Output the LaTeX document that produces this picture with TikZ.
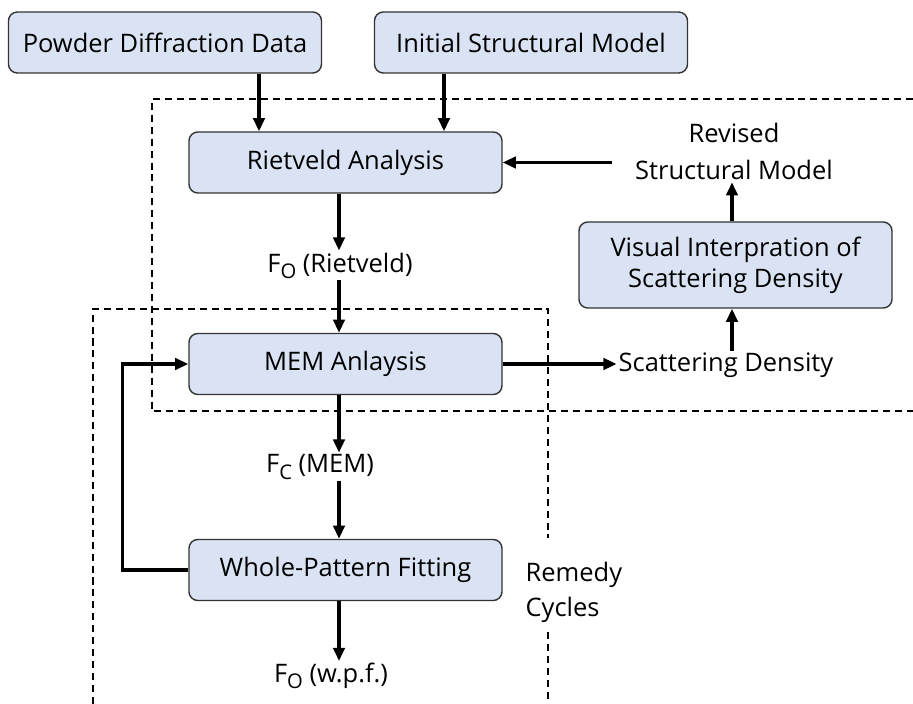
\documentclass[tikz,border=0pt]{standalone}
\usepackage{fontspec}
\setmainfont{Open Sans}
\definecolor{boxFill}{HTML}{DAE3F3}
\definecolor{boxLine}{HTML}{333333}
\usetikzlibrary{arrows.meta}
\newcommand{\lowsub}[1]{\raisebox{-0.24em}{\fontsize{11.5}{12}\selectfont #1}}

\begin{document}
\begin{tikzpicture}[
  font=\fontsize{14.5}{17.5}\selectfont,
  block/.style={rounded corners=5pt, fill=boxFill, draw=boxLine, line width=0.8pt,
    minimum width=6.26cm, minimum height=1.22cm, align=center},
  lbl/.style={inner sep=1pt, align=center},
  arr/.style={-{Triangle[length=7.5pt,width=6.5pt]}, line width=1.8pt},
  frame/.style={dash pattern=on 4pt off 2.8pt, line width=1.1pt}
]
  \useasboundingbox (0,0) rectangle (18.26,14.08);

  % dashed frames
  \draw[frame] (18.26,12.10) -- (3.04,12.10) -- (3.04,5.86) -- (18.26,5.86);
  \draw[frame] (1.86,0) -- (1.86,7.90) -- (10.96,7.90) -- (10.96,3.32);
  \draw[frame] (10.96,1.44) -- (10.96,0);

  % boxes
  \node[block] (pdd) at (3.30,13.23) {Powder Diffraction Data};
  \node[block] (ism) at (10.62,13.23) {Initial Structural Model};
  \node[block] (riet) at (6.91,10.83) {Rietveld Analysis};
  \node[block] (mem) at (6.91,6.80) {MEM Anlaysis};
  \node[block] (wpf) at (6.91,2.68) {Whole-Pattern Fitting};
  \node[block, minimum height=1.72cm] (vis) at (14.71,8.78) {
    Visual Interpration of\\Scattering Density
  };

  % labels
  \node[lbl] (fo1) at (6.80,8.77) {F\lowsub{O} (Rietveld)};
  \node[lbl] (fc) at (6.40,4.74) {F\lowsub{C} (MEM)};
  \node[lbl] (fo2) at (6.62,0.56) {F\lowsub{O} (w.p.f.)};
  \node[lbl] (rev) at (14.68,11.05) {Revised\\[4pt]Structural Model};
  \node[lbl] (scat) at (14.52,6.77) {Scattering Density};
  \node[lbl, anchor=west, align=left] (remedy) at (10.47,2.24) {Remedy\\[2.5pt]Cycles};

  \coordinate (pcol) at (5.18,0);
  \coordinate (icol) at (8.88,0);
  \coordinate (col) at (6.78,0);
  \coordinate (vcol) at (14.64,0);
  \coordinate (revtail) at (12.24,10.83);

  % connectors
  \draw[arr] (pcol |- pdd.south) -- (pcol |- riet.north);
  \draw[arr] (icol |- ism.south) -- (icol |- riet.north);
  \draw[arr] (revtail) -- (riet.east);
  \draw[arr] (col |- riet.south) -- (col |- fo1.north);
  \draw[arr] (col |- fo1.south) -- (col |- mem.north);
  \draw[arr] (col |- mem.south) -- (col |- fc.north);
  \draw[arr] (col |- fc.south) -- (col |- wpf.north);
  \draw[arr] (col |- wpf.south) -- (col |- fo2.north);
  \draw[arr] (wpf.west) -- ++(-1.32,0) |- (mem.west);
  \draw[arr] (mem.east) -- (mem.east -| scat.west);
  \draw[arr] (vcol |- scat.north) -- (vcol |- vis.south);
  \draw[arr] (vcol |- vis.north) -- (vcol |- rev.south);
\end{tikzpicture}
\end{document}
